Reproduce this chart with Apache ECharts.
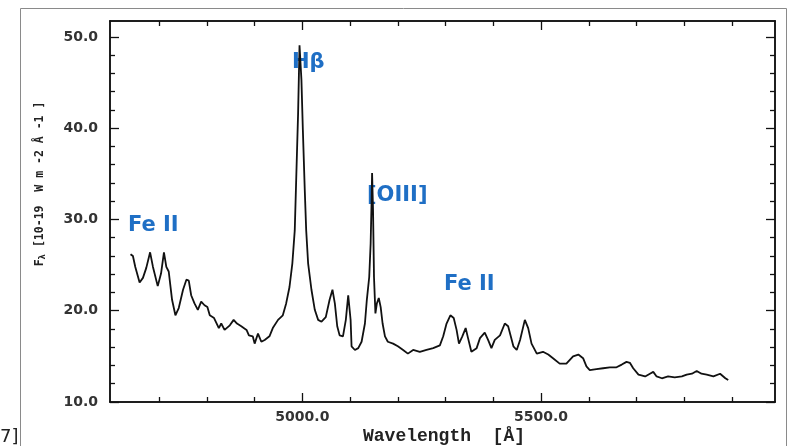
<!DOCTYPE html>
<html>
<head>
<meta charset="utf-8">
<script src="https://cdn.jsdelivr.net/npm/echarts@6/dist/echarts.min.js"></script>
<style>
html,body{margin:0;padding:0;background:#fff;}
#chart{width:790px;height:446px;}
</style>
</head>
<body>
<div id="chart"></div>
<script>
// Wavelength in Angstrom
const wavelength = [
4640,4645,4650,4659,4666,4673,4681,4687,4697,4704,4710,4715,4720,4727,4734,4741,4750,4757,4762,4767,4774,4781,4788,4795,4801,4806,4815,4825,4830,4837,4848,4856,4863,4872,4883,4888,
4896,4900,4907,4914,4921,4931,4938,4949,4959,4966,4973,4979,4984,4987,4991,4994,4998,5001,5005,5008,5012,5019,5026,5033,5040,5049,5057,5063,5068,5073,5078,5085,
5091,5096,5101,5103,5110,5117,5124,5131,5135,5140,5143,5145,5146,5148,5150,5153,5156,5160,5164,5168,5173,5179,5190,5200,5211,5221,5232,5246,5260,5274,5288,
5295,5302,5310,5317,5323,5328,5335,5342,5347,5354,5365,5372,5382,5389,5396,5403,5414,5424,5431,5442,5449,5456,5466,5473,5480,5491,5504,5515,5525,5539,
5553,5567,5578,5588,5595,5602,5616,5630,5644,5658,5669,5679,5686,5693,5704,5718,5728,5735,5742,5753,5766,5780,5795,5805,5816,5826,5836,5847,5861,5875,5886,5892
];
// Flux F_lambda [1e-19 W m^-2 A^-1]
const flux = [
26.2,26.0,24.8,23.1,23.6,24.7,26.4,24.8,22.7,24.1,26.4,24.8,24.3,21.2,19.5,20.3,22.3,23.4,23.3,21.7,20.8,20.1,21.0,20.6,20.4,19.5,19.2,18.1,18.6,17.9,18.4,19.0,18.6,18.3,17.9,17.3,
17.2,16.4,17.5,16.6,16.8,17.2,18.1,19.0,19.5,20.8,22.6,25.2,28.8,34.3,41.6,49.1,45.3,39.8,33.2,28.8,25.2,22.3,20.1,19.0,18.8,19.3,21.2,22.3,20.8,18.3,17.3,17.2,
19.0,21.7,19.0,16.1,15.7,15.9,16.6,18.6,21.2,23.7,27.4,32.1,35.1,31.0,23.7,19.7,20.8,21.4,20.4,18.6,17.2,16.6,16.4,16.1,15.7,15.3,15.7,15.5,15.7,15.9,16.2,
17.2,18.6,19.5,19.2,17.9,16.4,17.2,18.1,17.0,15.5,15.9,17.0,17.6,16.8,15.9,16.8,17.3,18.6,18.3,16.1,15.7,16.8,19.0,18.1,16.4,15.3,15.5,15.2,14.8,14.2,
14.2,15.0,15.2,14.8,13.9,13.5,13.6,13.7,13.8,13.8,14.1,14.4,14.3,13.7,13.0,12.8,13.1,13.3,12.8,12.6,12.8,12.7,12.8,13.0,13.1,13.4,13.1,13.0,12.8,13.1,12.6,12.4
];
const xMajorTicks = [5000, 5500];
const xMinorTicks = [4700, 4800, 4900, 5100, 5200, 5300, 5400, 5600, 5700, 5800, 5900];
const yMajorTicks = [10, 20, 30, 40, 50];
const yMinorTicks = [12, 14, 16, 18, 22, 24, 26, 28, 32, 34, 36, 38, 42, 44, 46, 48];
const xRange = [4597, 5990];
const yRange = [10, 51.75];
const xTitle = 'Wavelength  [Å]';
const annotations = [
  {text: 'Fe II', x: 128, y: 226},
  {text: 'Hβ', x: 292, y: 63},
  {text: '[OIII]', x: 367, y: 196},
  {text: 'Fe II', x: 444, y: 285}
];

const lineCol = '#111';
function xAx(pos, ticks, len, labels) {
  return {
    type: 'value', position: pos, min: xRange[0], max: xRange[1],
    axisLine: {show: true, lineStyle: {color: lineCol, width: 1.5}},
    axisTick: {show: true, inside: true, length: len, customValues: ticks, lineStyle: {color: lineCol, width: 1.3}},
    axisLabel: labels ? {show: true, customValues: xMajorTicks, formatter: v => v.toFixed(1), margin: 8,
      fontFamily: 'DejaVu Sans', fontWeight: 'bold', fontSize: 14, color: '#333'} : {show: false},
    splitLine: {show: false}
  };
}
function yAx(pos, ticks, len, labels) {
  return {
    type: 'value', position: pos, min: yRange[0], max: yRange[1],
    axisLine: {show: true, lineStyle: {color: lineCol, width: 1.5}},
    axisTick: {show: true, inside: true, length: len, customValues: ticks, lineStyle: {color: lineCol, width: 1.3}},
    axisLabel: labels ? {show: true, customValues: yMajorTicks, formatter: v => v.toFixed(1), margin: 12,
      fontFamily: 'DejaVu Sans', fontWeight: 'bold', fontSize: 14, color: '#333'} : {show: false},
    splitLine: {show: false}
  };
}

const chart = echarts.init(document.getElementById('chart'), null, {renderer: 'canvas'});
const graphics = [
  {type: 'rect', shape: {x: 20.5, y: 8.5, width: 766, height: 460}, style: {fill: 'none', stroke: '#8a8a8a', lineWidth: 1}, silent: true, z: -1},
  {type: 'text', x: 0, y: 437, style: {text: '7]', font: '18px "DejaVu Sans"', fill: '#222', verticalAlign: 'middle', align: 'left'}},
  {type: 'text', x: 444, y: 436, style: {text: xTitle, font: 'bold 18px "Liberation Mono"', fill: '#222', align: 'center', verticalAlign: 'middle'}},
  {type: 'text', x: 40, y: 184, rotation: Math.PI / 2,
    style: {
      rich: {
        a: {fontFamily: 'DejaVu Sans Mono', fontWeight: 'bold', fontSize: 11.5, fill: '#222'},
        s: {fontFamily: 'DejaVu Sans Mono', fontWeight: 'bold', fontSize: 9, fill: '#222', padding: [6, 0, 0, 0]}
      },
      text: '{a|F}{s|λ}{a| [10-19  W m -2 Å -1 ]}', align: 'center', verticalAlign: 'middle'
    }}
];
annotations.forEach(a => graphics.push({
  type: 'text', x: a.x, y: a.y,
  style: {text: a.text, font: 'bold 21px "DejaVu Sans"', fill: '#1f6fc5', align: 'left', verticalAlign: 'middle'}
}));

chart.setOption({
  animation: false,
  backgroundColor: '#fff',
  grid: {left: 110, right: 15, top: 21, bottom: 44, containLabel: false},
  xAxis: [
    xAx('bottom', xMajorTicks, 9, true),
    xAx('bottom', xMinorTicks, 5, false),
    xAx('top', xMajorTicks, 9, false),
    xAx('top', xMinorTicks, 5, false)
  ],
  yAxis: [
    yAx('left', yMajorTicks, 9, true),
    yAx('left', yMinorTicks, 5, false),
    yAx('right', yMajorTicks, 9, false),
    yAx('right', yMinorTicks, 5, false)
  ],
  series: [{
    type: 'line', xAxisIndex: 0, yAxisIndex: 0,
    data: wavelength.map((w, i) => [w, flux[i]]),
    showSymbol: false, symbol: 'none', smooth: false,
    lineStyle: {color: '#111', width: 1.8},
    silent: true
  }],
  graphic: graphics
});
</script>
</body>
</html>
